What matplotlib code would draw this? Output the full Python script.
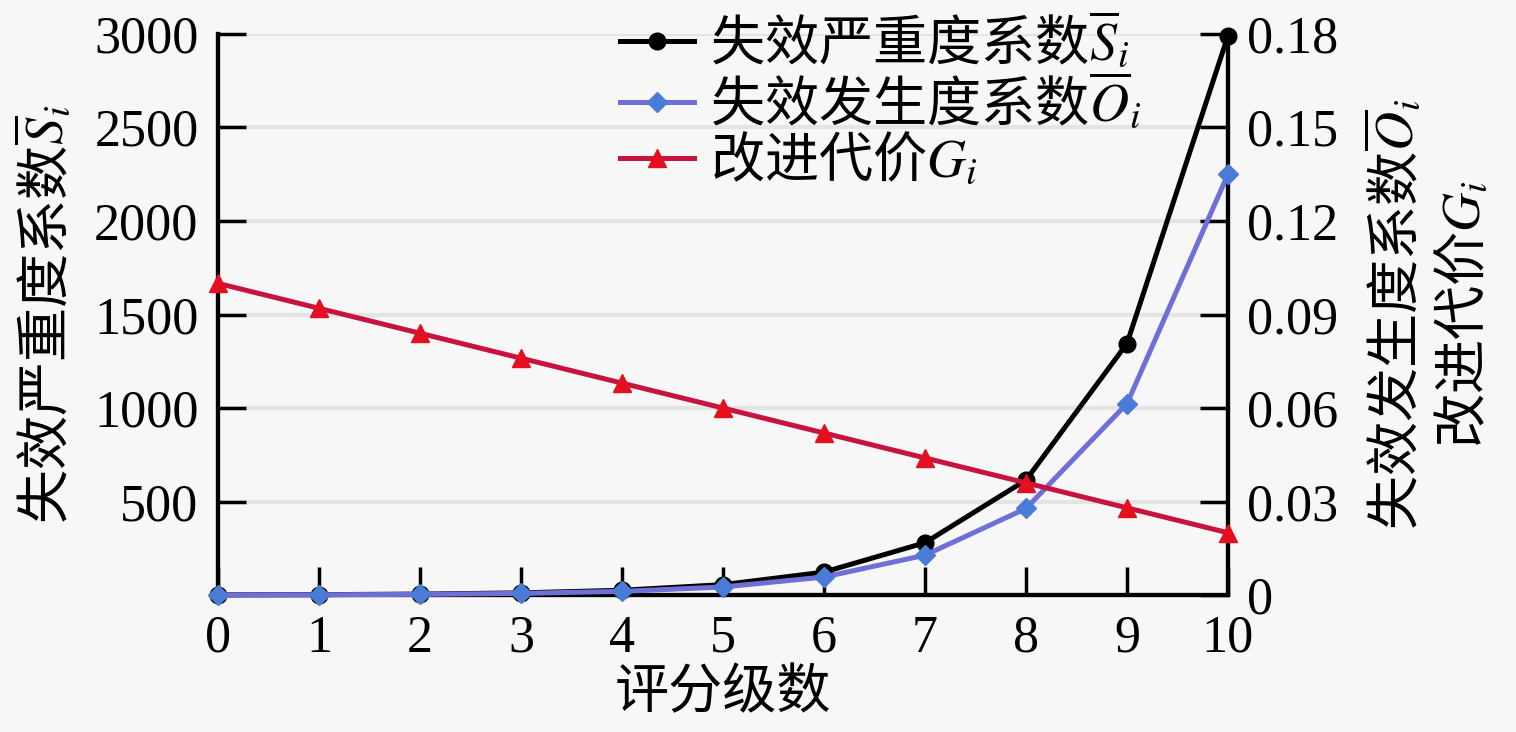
import matplotlib
matplotlib.use("Agg")
import matplotlib.pyplot as plt
from matplotlib.lines import Line2D
from matplotlib.font_manager import FontProperties

# ---- data ----
levels = [0, 1, 2, 3, 4, 5, 6, 7, 8, 9, 10]
severity = [1.2, 2.5, 5.5, 12, 26, 56, 123, 280, 615, 1345, 2990]
occurrence = [0.00005, 0.0001, 0.00025, 0.00055, 0.0012, 0.0026, 0.0058,
              0.0128, 0.0278, 0.0614, 0.135]
cost = [0.100, 0.092, 0.084, 0.076, 0.068, 0.060, 0.052, 0.044, 0.036, 0.028, 0.020]
left_ticks = [500, 1000, 1500, 2000, 2500, 3000]
right_ticks = [0, 0.03, 0.06, 0.09, 0.12, 0.15, 0.18]
right_ticklabels = ["0", "0.03", "0.06", "0.09", "0.12", "0.15", "0.18"]

label_S = r"失效严重度系数$\overline{S}_i$"
label_O = r"失效发生度系数$\overline{O}_i$"
label_G = r"改进代价$G_i$"
xlabel = "评分级数"

plt.rcParams['font.family'] = ['Liberation Serif', 'Noto Sans CJK SC']
plt.rcParams['mathtext.fontset'] = 'stix'

FS = 37.5
cjk = FontProperties(family=['Noto Sans CJK SC'], size=39)

bg = '#f7f7f7'
fig = plt.figure(figsize=(15.16, 7.32), dpi=100, facecolor=bg)
ax = fig.add_axes([0.1438, 0.187, 0.81 - 0.1438, 0.9536 - 0.187])
ax.set_facecolor(bg)
ax2 = ax.twinx()

# gridlines
for t in left_ticks:
    ax.axhline(t, color='#e4e4e4', lw=3, zorder=0)

LW = 3.6
ax.plot(levels, severity, color='black', lw=LW, marker='o', markersize=12,
        markerfacecolor='black', markeredgecolor='black', zorder=3, clip_on=False)
ax2.plot(levels, occurrence, color='#6f6fd8', lw=LW, marker='D', markersize=10,
         markerfacecolor='#4a7bd6', markeredgecolor='#4a7bd6', zorder=3, clip_on=False)
ax2.plot(levels, cost, color='#c8133f', lw=LW, marker='^', markersize=13,
         markerfacecolor='#e4101f', markeredgecolor='#e4101f', zorder=4, clip_on=False)

ax.set_xlim(0, 10)
ax.set_ylim(0, 3000)
ax2.set_ylim(0, 0.18)
ax.set_xticks(levels)
ax.set_xticklabels([str(v) for v in levels], fontsize=FS)
ax.set_yticks(left_ticks)
ax.set_yticklabels([str(v) for v in left_ticks], fontsize=FS)
ax2.set_yticks(right_ticks)
ax2.set_yticklabels(right_ticklabels, fontsize=FS)

for a in (ax, ax2):
    a.spines['top'].set_visible(False)
    for s in ('left', 'right', 'bottom'):
        a.spines[s].set_linewidth(3)
    a.tick_params(direction='in', length=20, width=2.5, pad=14)
ax.tick_params(axis='x', pad=14)

ax.set_xlabel(xlabel, fontproperties=cjk, labelpad=2)
ax.set_ylabel(label_S, fontproperties=cjk, labelpad=14)
ax2.set_ylabel(label_O + "\n" + label_G, fontproperties=cjk, rotation=90,
               labelpad=18, linespacing=1.25)

handles = [
    Line2D([], [], color='black', lw=LW, marker='o', markersize=12),
    Line2D([], [], color='#6f6fd8', lw=LW, marker='D', markersize=10,
           markerfacecolor='#4a7bd6', markeredgecolor='#4a7bd6'),
    Line2D([], [], color='#c8133f', lw=LW, marker='^', markersize=13,
           markerfacecolor='#e4101f', markeredgecolor='#e4101f'),
]
leg = ax2.legend(handles, [label_S, label_O, label_G], loc='upper left',
                 bbox_to_anchor=(0.377, 1.08), frameon=False, prop=cjk,
                 handlelength=1.35, handletextpad=0.3, labelspacing=0.0,
                 borderaxespad=0)

fig.savefig('out.png', dpi=100, facecolor=bg)
